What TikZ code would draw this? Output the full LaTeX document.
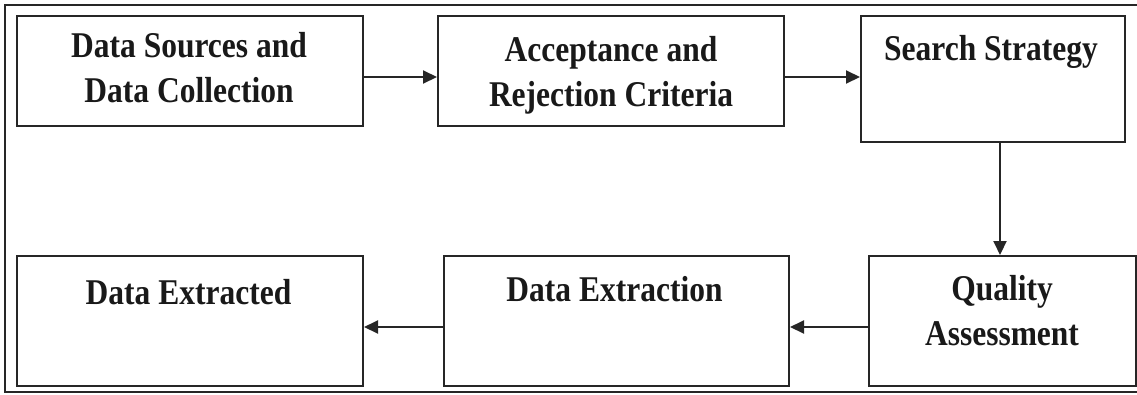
\documentclass[tikz,border=0pt]{standalone}
\usepackage{fontspec}
\setmainfont{Liberation Serif}
\usetikzlibrary{arrows.meta}

\tikzset{
  stage/.style={draw=black!85, line width=2pt, inner sep=0pt},
  boxtext/.style={font=\bfseries\fontsize{31.5}{39}\selectfont, align=center,
    inner sep=0pt, yscale=1.15, transform shape, text=black!90},
  flow/.style={draw=black!85, line width=2pt, -{Triangle[length=14pt,width=13pt]}}
}

\begin{document}
\begin{tikzpicture}[x=1pt,y=-1pt]
  \useasboundingbox (0,0) rectangle (1137,394);
  % outer frame
  \draw[black!85, line width=2pt] (5,5) rectangle (1142,392);

  % boxes
  \node[stage, minimum width=346pt, minimum height=110pt] (sources)  at (190,71)    {};
  \node[stage, minimum width=346pt, minimum height=110pt] (criteria) at (611,71)    {};
  \node[stage, minimum width=264pt, minimum height=126pt] (search)   at (993,79)    {};
  \node[stage, minimum width=267pt, minimum height=130pt] (quality)  at (1002.5,321) {};
  \node[stage, minimum width=345pt, minimum height=130pt] (extract)  at (616.5,321) {};
  \node[stage, minimum width=346pt, minimum height=130pt] (result)   at (190,321)   {};

  % texts
  \node[boxtext] (sourcesT)  at (189,68)    {Data Sources and\\Data Collection};
  \node[boxtext] (criteriaT) at (611,75)    {Acceptance and\\Rejection Criteria};
  \node[boxtext] (searchT)   at (991,51.5)  {Search Strategy};
  \node[boxtext] (qualityT)  at (1002,311)  {Quality\\Assessment};
  \node[boxtext] (extractT)  at (614.5,289) {Data Extraction};
  \node[boxtext] (resultT)   at (188.5,292) {Data Extracted};

  % arrows
  \draw[flow] ([yshift=-6pt]sources.east) -- ([yshift=-6pt]criteria.west);
  \draw[flow] ([yshift=-6pt]criteria.east) -- ([yshift=-6pt]criteria.east -| search.west);
  \draw[flow] ([xshift=7pt]search.south) -- ([xshift=7pt]search.south |- quality.north);
  \draw[flow] ([yshift=-6pt]quality.west) -- ([yshift=-6pt]quality.west -| extract.east);
  \draw[flow] ([yshift=-6pt]extract.west) -- ([yshift=-6pt]result.east);
\end{tikzpicture}
\end{document}
